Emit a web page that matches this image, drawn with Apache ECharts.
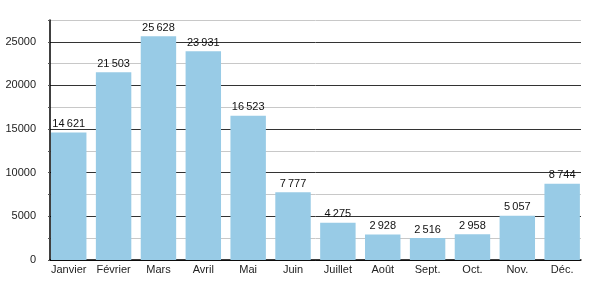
<!DOCTYPE html>
<html><head><meta charset="utf-8">
<script src="https://cdn.jsdelivr.net/npm/echarts@6/dist/echarts.min.js"></script>
<style>html,body{margin:0;padding:0;background:#fff}#c{width:600px;height:300px}</style>
</head><body><div id="c"></div>
<script>
const categories = ['Janvier','Février','Mars','Avril','Mai','Juin','Juillet','Août','Sept.','Oct.','Nov.','Déc.'];
const values = [14621, 21503, 25628, 23931, 16523, 7777, 4275, 2928, 2516, 2958, 5057, 8744];
const yTicks = [0, 5000, 10000, 15000, 20000, 25000];

function fmt(v){ return String(v).replace(/\B(?=(\d{3})+(?!\d))/g, '\u202f'); }

const chart = echarts.init(document.getElementById('c'), null, {renderer:'canvas'});
chart.setOption({
  animation:false,
  textStyle:{fontFamily:'Liberation Sans, Arial, sans-serif'},
  grid:[
    {left:50, right:19, top:20, bottom:40},
    {left:46.3, right:15.4, top:20, bottom:40}
  ],
  xAxis:[{
    gridIndex:0, type:'category', data:categories,
    axisLine:{lineStyle:{color:'#000', width:1.5}, z:10},
    axisTick:{show:false},
    axisLabel:{show:false}
  },{
    gridIndex:1, type:'category', data:categories,
    axisLine:{show:false},
    axisTick:{show:false},
    axisLabel:{color:'#222', fontSize:11, margin:4, interval:0}
  }],
  yAxis:[{
    gridIndex:0, type:'value', min:0, max:27500, interval:2500,
    axisLine:{show:true, lineStyle:{color:'#000', width:1.5}},
    axisTick:{show:true, length:2, lineStyle:{color:'#555'}},
    axisLabel:{color:'#222', fontSize:11, margin:14,
      formatter:v => yTicks.includes(v) ? String(v) : ''},
    splitLine:{show:true, lineStyle:{color:['#333','#c8c8c8'], width:1}}
  },{
    gridIndex:1, type:'value', min:0, max:27500, show:false,
    splitLine:{show:false}
  }],
  series:[{
    type:'bar', xAxisIndex:1, yAxisIndex:1, data:values, barWidth:'79%',
    itemStyle:{color:'#98cbe6'},
    label:{show:true, position:'top', distance:3, color:'#111', fontSize:11,
      formatter:p => fmt(p.value)}
  }]
});
</script></body></html>
